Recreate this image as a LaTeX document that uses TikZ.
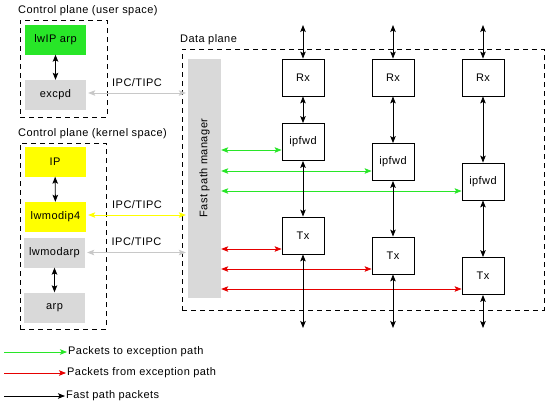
\documentclass[tikz,border=0pt]{standalone}
\usepackage{fontspec}
\setmainfont[LetterSpace=4]{Liberation Sans}
\usetikzlibrary{arrows.meta}
\definecolor{pktgreen}{RGB}{40,230,40}
\definecolor{pktred}{RGB}{230,0,0}
\definecolor{ipcgray}{RGB}{200,200,200}
\definecolor{boxgray}{RGB}{217,217,217}
\definecolor{boxyellow}{RGB}{255,255,0}

\begin{document}
\begin{tikzpicture}%
  [x=1pt,y=-1pt,font=\fontsize{11}{13}\selectfont,
   >={Stealth[length=7pt,width=5.5pt,inset=1.5pt]},
   zone/.style=
    {draw,line width=0.8pt,dash pattern=on 5pt off 4pt,inner sep=0pt},
   ctrl/.style=
    {inner sep=0pt,minimum width=61pt,minimum height=30pt,align=center},
   fwd/.style=
    {draw,line width=0.8pt,inner sep=0pt,minimum width=42pt,minimum height=37pt},
   title/.style={anchor=west,inner sep=0pt},
   legend/.style={anchor=west,inner sep=1pt},
   flow/.style={line width=0.9pt,<->},
   ipc/.style={line width=0.8pt,ipcgray,shorten <=2pt,shorten >=2pt,<->},
   toexc/.style={line width=0.8pt,pktgreen,<->},
   fromexc/.style={line width=0.8pt,pktred,<->}
  ]
  \useasboundingbox[fill=white] (0,0) rectangle (549,408);

  % control plane, user space
  \node[title] (tuser) at (18,11) {Control plane (user space)};
  \node[zone,minimum width=87pt,minimum height=97pt] (user) at (63.5,68.5) {};
  \node[ctrl,fill=pktgreen] (lwip) at (55.5,39.5) {lwIP arp};
  \node[ctrl,fill=boxgray] (excpd) at (55.5,95) {excpd};
  \draw[flow] (lwip) -- (excpd);

  % control plane, kernel space
  \node[title] (tkernel) at (18,134) {Control plane (kernel space)};
  \node[zone,minimum width=86pt,minimum height=186pt] (kernel) at (63,236) {};
  \node[ctrl,fill=boxyellow] (ip) at (55,161.5) {IP};
  \node[ctrl,fill=boxyellow] (ipfour) at (55.5,217) {lwmodip4};
  \node[ctrl,fill=boxgray] (modarp) at (54.5,252.5) {lwmodarp};
  \node[ctrl,fill=boxgray] (arp) at (54.5,307.5) {arp};
  \draw[flow] (ip) -- (ipfour);
  \draw[flow] (modarp) -- (arp);

  % data plane
  \node[title] (tdata) at (180,40) {Data plane};
  \node[zone,minimum width=362pt,minimum height=261pt] (data) at (363,179.5) {};
  \node[fill=boxgray,inner sep=0pt,minimum width=33pt,minimum height=239pt] (fpm) at (204.5,178.5) {};
  \node[rotate=90,inner sep=0pt] (tfpm) at (204.5,168) {Fast path manager};

  \node[fwd] (rxa) at (303,77.5) {Rx};
  \node[fwd] (rxb) at (393,77.5) {Rx};
  \node[fwd] (rxc) at (483,77.5) {Rx};
  \node[fwd] (fwda) at (303,142) {ipfwd};
  \node[fwd] (fwdb) at (393,162) {ipfwd};
  \node[fwd] (fwdc) at (483,181.5) {ipfwd};
  \node[fwd] (txa) at (303,235.5) {Tx};
  \node[fwd] (txb) at (393,255.5) {Tx};
  \node[fwd] (txc) at (483,276) {Tx};

  % IPC/TIPC links
  \draw[ipc] (excpd.east |- 0,93) -- node[above=3pt,black] (ipca) {IPC/TIPC} (fpm.west |- 0,93);
  \draw[ipc,boxyellow] (ipfour.east |- 0,215) -- node[above=3pt,black] (ipcb) {IPC/TIPC} (fpm.west |- 0,215);
  \draw[ipc] (modarp.east) -- node[above=3pt,black] (ipcc) {IPC/TIPC} (fpm.west |- modarp.east);

  % exception paths
  \draw[toexc] (fpm.east |- 0,150) -- (fwda.west |- 0,150);
  \draw[toexc] (fpm.east |- 0,171) -- (fwdb.west |- 0,171);
  \draw[toexc] (fpm.east |- 0,191) -- (fwdc.west |- 0,191);
  \draw[fromexc] (fpm.east |- 0,249) -- (txa.west |- 0,249);
  \draw[fromexc] (fpm.east |- 0,269) -- (txb.west |- 0,269);
  \draw[fromexc] (fpm.east |- 0,289) -- (txc.west |- 0,289);

  % fast path
  \foreach \c in {a,b,c} {
    \coordinate (in\c) at (rx\c.north |- 0,25);
    \coordinate (out\c) at (tx\c.south |- 0,328);
    \draw[flow] (in\c) -- (rx\c);
    \draw[flow] (rx\c) -- (fwd\c);
    \draw[flow] (fwd\c) -- (tx\c);
    \draw[flow] (tx\c) -- (out\c);
  }

  % legend
  \node[legend] (lga) at (67,352) {Packets to exception path};
  \node[legend] (lgb) at (66,373) {Packets from exception path};
  \node[legend] (lgc) at (65,396) {Fast path packets};
  \coordinate (sa) at (4,352);
  \coordinate (sb) at (4,373);
  \coordinate (sc) at (4,396);
  \draw[line width=0.8pt,pktgreen,->] (sa) -- (lga);
  \draw[line width=0.8pt,pktred,->] (sb) -- (lgb);
  \draw[line width=0.9pt,->] (sc) -- (lgc);
\end{tikzpicture}
\end{document}
